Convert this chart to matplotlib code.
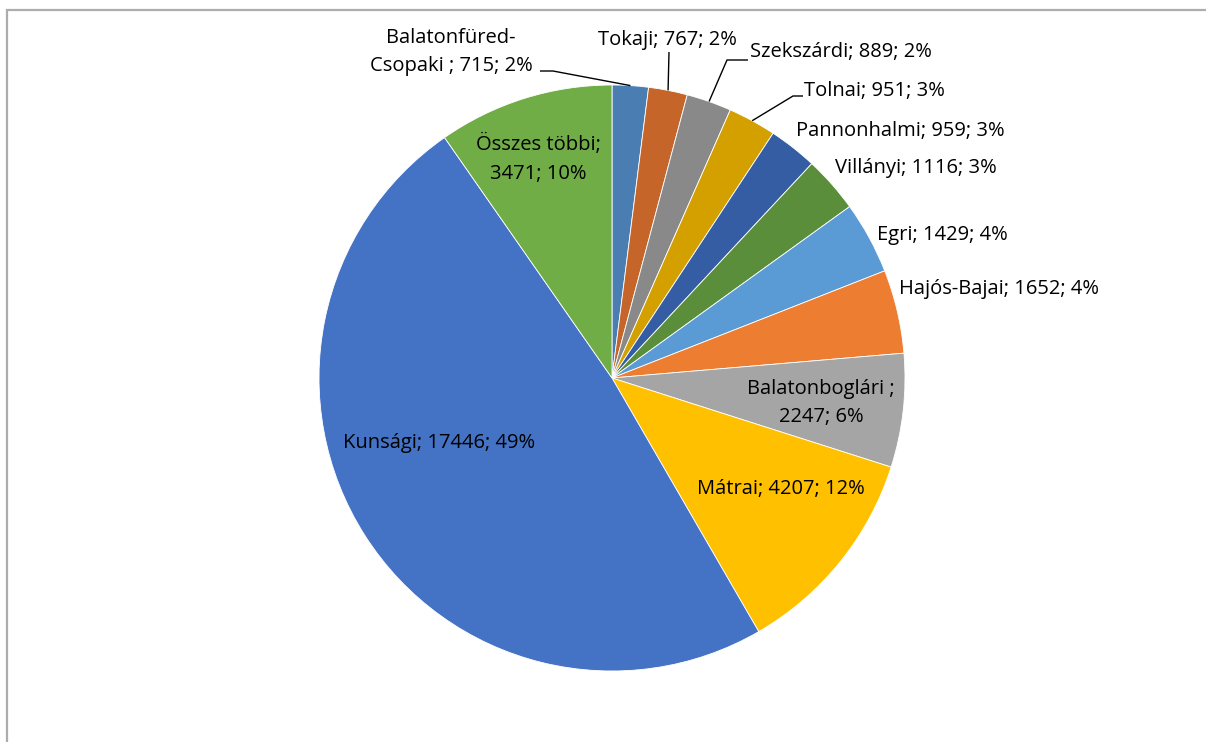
"""Pie chart of wine regions (borvidékek) with Excel-style data labels."""

import matplotlib

matplotlib.use("Agg")
import matplotlib.pyplot as plt
import numpy as np
from matplotlib.patches import Rectangle

# clockwise from 12 o'clock
regions = [
    "Balatonfüred-\nCsopaki ", "Tokaji", "Szekszárdi", "Tolnai", "Pannonhalmi",
    "Villányi", "Egri", "Hajós-Bajai", "Balatonboglári ", "Mátrai", "Kunsági",
    "Összes többi",
]
values = [715, 767, 889, 951, 959, 1116, 1429, 1652, 2247, 4207, 17446, 3471]
# percentages as printed on the chart
pct_labels = ["2%", "2%", "2%", "3%", "3%", "3%", "4%", "4%", "6%", "12%", "49%", "10%"]
colors = [
    "#4A7EB2", "#C5652A", "#898989", "#D3A000", "#345DA4", "#5A8E3A",
    "#5B9BD5", "#ED7D31", "#A5A5A5", "#FFC000", "#4472C4", "#70AD47",
]

W, H = 1206, 742
CX, CY, R = 612, H - 378, 293

# label layout in pixel coords (x, y from top), alignment, optional leader elbow
label_layout = {
    "Balatonfüred-\nCsopaki ": dict(xy=(451, 52), ha="center", elbow=[(553, 71), (540, 71)]),
    "Tokaji": dict(xy=(667, 40), ha="center", elbow=[(669, 52)]),
    "Szekszárdi": dict(xy=(750, 52), ha="left", elbow=[(727, 60), (748, 60)]),
    "Tolnai": dict(xy=(804, 91), ha="left", elbow=[(793, 96), (803, 96)]),
    "Pannonhalmi": dict(xy=(796, 131), ha="left"),
    "Villányi": dict(xy=(835, 168), ha="left"),
    "Egri": dict(xy=(877, 235), ha="left"),
    "Hajós-Bajai": dict(xy=(899, 289), ha="left"),
    "Balatonboglári ": dict(xy=(821, 403), ha="center", wrap=True),
    "Mátrai": dict(xy=(781, 489), ha="center"),
    "Kunsági": dict(xy=(439, 443), ha="center"),
    "Összes többi": dict(xy=(538, 159), ha="center", wrap=True),
}

plt.rcParams["font.family"] = ["Open Sans", "DejaVu Sans"]

fig = plt.figure(figsize=(W / 100, H / 100), dpi=100)
ax = fig.add_axes([0, 0, 1, 1])

wedges, _ = ax.pie(
    values,
    colors=colors,
    startangle=90,
    counterclock=False,
    center=(CX, CY),
    radius=R,
    wedgeprops=dict(edgecolor="white", linewidth=0.6),
)
ax.set_xlim(0, W)
ax.set_ylim(0, H)
ax.set_aspect("auto")
ax.axis("off")

# chart frame (extends past right/bottom edge)
fig.patches.append(
    Rectangle((7 / W, -0.1), 1.2, (H - 9.5) / H + 0.1, transform=fig.transFigure,
              fill=False, edgecolor="#ADADAD", linewidth=1.6)
)

for wedge, name, val, pct in zip(wedges, regions, values, pct_labels):
    lay = label_layout[name]
    if lay.get("wrap"):
        text = f"{name};\n{val}; {pct}"
    else:
        text = f"{name}; {val}; {pct}"
    x, y = lay["xy"]
    ax.text(x, H - y, text, ha=lay["ha"], va="center", fontsize=14.5,
            color="black", linespacing=1.55)
    if "elbow" in lay:
        mid = np.deg2rad((wedge.theta1 + wedge.theta2) / 2)
        ax0 = CX + R * np.cos(mid)
        ay0 = CY + R * np.sin(mid)
        xs = [ax0] + [p[0] for p in lay["elbow"]]
        ys = [ay0] + [H - p[1] for p in lay["elbow"]]
        ax.plot(xs, ys, color="black", linewidth=1.0, solid_capstyle="butt")

fig.savefig("out.png", dpi=100, facecolor="white")
